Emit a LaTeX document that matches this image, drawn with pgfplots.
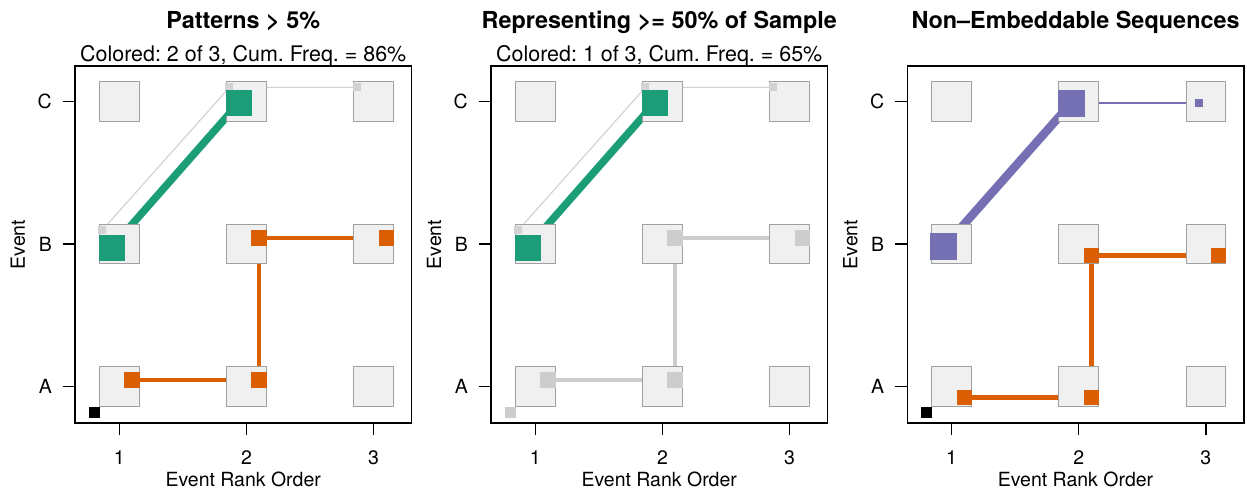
\documentclass[border=0pt]{standalone}
\usepackage{pgfplots}
\pgfplotsset{compat=1.18}
\usepackage{fontspec}
\setmainfont{TeX Gyre Heros}
\frenchspacing
\definecolor{cgreen}{HTML}{1B9E77}
\definecolor{corange}{HTML}{D95F02}
\definecolor{cpurple}{HTML}{7570B3}
\definecolor{gridfill}{HTML}{F0F0F0}
\definecolor{gridedge}{HTML}{A0A0A0}
\definecolor{thingray}{HTML}{D3D3D3}
\definecolor{thickgray}{HTML}{CDCDCD}
\newcommand{\basefont}{\fontsize{19.5bp}{23bp}\selectfont}
\newcommand{\titlefont}{\fontsize{23.4bp}{28bp}\selectfont\bfseries}
\newcommand{\subfont}{\fontsize{21.45bp}{25bp}\selectfont}
\pgfplotsset{
  panel/.style={
    scale only axis, width=336.5bp, height=357bp,
    anchor=south west,
    xmin=0.652, xmax=3.298, ymin=0.745, ymax=3.25,
    xtick={1,2,3}, xticklabels={1,2,3},
    ytick={1,2,3}, yticklabels={A,B,C},
    xtick pos=left, ytick pos=left,
    /pgf/number format/assume math mode=true,
    tick align=outside, major tick length=12bp,
    axis line style={line width=1.6bp},
    every tick/.style={black, line width=1.3bp},
    tick label style={font=\basefont},
    xticklabel style={anchor=base, inner sep=0pt, yshift=-29bp},
    yticklabel style={anchor=east, inner sep=0pt, xshift=-11bp},
    every axis x label/.style={at={(axis description cs:0.5,-0.177)}, anchor=base, font=\basefont},
    every axis y label/.style={at={(axis description cs:-0.1486,0.5)}, rotate=90, anchor=base, font=\basefont},
    xlabel={Event Rank Order}, ylabel={Event},
    clip=false,
  },
  gridsq/.style={only marks, mark=square*, mark size=19.75bp, mark options={fill=gridfill, draw=gridedge, line width=1bp}},
  sq/.style={mark=square*, mark options={solid, line width=0pt}},
}
\begin{document}
\begin{tikzpicture}
\useasboundingbox (0,0) rectangle (1247bp,489bp);
% Panel 1
\begin{axis}[panel, at={(75bp,66bp)}]
\addplot[gridsq] coordinates {(1,1)(2,1)(3,1)(1,2)(2,2)(3,2)(1,3)(2,3)(3,3)};
\addplot[thingray, line width=1.2bp, sq, mark size=3.4bp] coordinates {(0.866,2.098)(1.866,3.10)(2.869,3.10)};
\addplot[cgreen, line width=7.5bp, sq, mark size=12.5bp] coordinates {(0.94,1.976)(1.94,2.99)};
\addplot[corange, line width=4.3bp, sq, mark size=7.25bp] coordinates {(1.10,1.045)(2.10,1.045)(2.10,2.042)(3.10,2.042)};
\addplot[black, only marks, sq, mark size=5bp] coordinates {(0.809,0.822)};
\node[anchor=base, font=\titlefont, yshift=37bp] at (rel axis cs:0.5,1) {Patterns > 5\%};
\node[anchor=base, font=\subfont, yshift=4.3bp] at (rel axis cs:0.5,1) {Colored: 2 of 3, Cum. Freq. = 86\%};
\end{axis}
% Panel 2
\begin{axis}[panel, at={(491bp,66bp)}]
\addplot[gridsq] coordinates {(1,1)(2,1)(3,1)(1,2)(2,2)(3,2)(1,3)(2,3)(3,3)};
\addplot[thingray, line width=1.2bp, sq, mark size=3.4bp] coordinates {(0.866,2.098)(1.866,3.10)(2.869,3.10)};
\addplot[thickgray, line width=4.3bp, sq, mark size=7.25bp] coordinates {(1.10,1.045)(2.10,1.045)(2.10,2.042)(3.10,2.042)};
\addplot[thickgray, only marks, sq, mark size=5bp] coordinates {(0.809,0.822)};
\addplot[cgreen, line width=7.5bp, sq, mark size=12.5bp] coordinates {(0.94,1.976)(1.94,2.99)};
\node[anchor=base, font=\titlefont, yshift=37bp] at (rel axis cs:0.5,1) {Representing >= 50\% of Sample};
\node[anchor=base, font=\subfont, yshift=4.3bp] at (rel axis cs:0.5,1) {Colored: 1 of 3, Cum. Freq. = 65\%};
\end{axis}
% Panel 3
\begin{axis}[panel, at={(907.3bp,66bp)}]
\addplot[gridsq] coordinates {(1,1)(2,1)(3,1)(1,2)(2,2)(3,2)(1,3)(2,3)(3,3)};
\addplot[cpurple, line width=1.5bp, sq, mark size=3.5bp] coordinates {(1.941,2.99)(2.942,2.99)};
\addplot[cpurple, line width=8.5bp, sq, mark size=13bp] coordinates {(0.94,1.98)(1.941,2.99)};
\addplot[corange, line width=4.3bp, sq, mark size=7.25bp] coordinates {(1.10,0.923)(2.10,0.923)(2.10,1.92)(3.10,1.92)};
\addplot[black, only marks, sq, mark size=5bp] coordinates {(0.80,0.822)};
\node[anchor=base, font=\titlefont, yshift=37bp] at (rel axis cs:0.5,1) {Non\textendash Embeddable Sequences};
\end{axis}
\end{tikzpicture}
\end{document}
